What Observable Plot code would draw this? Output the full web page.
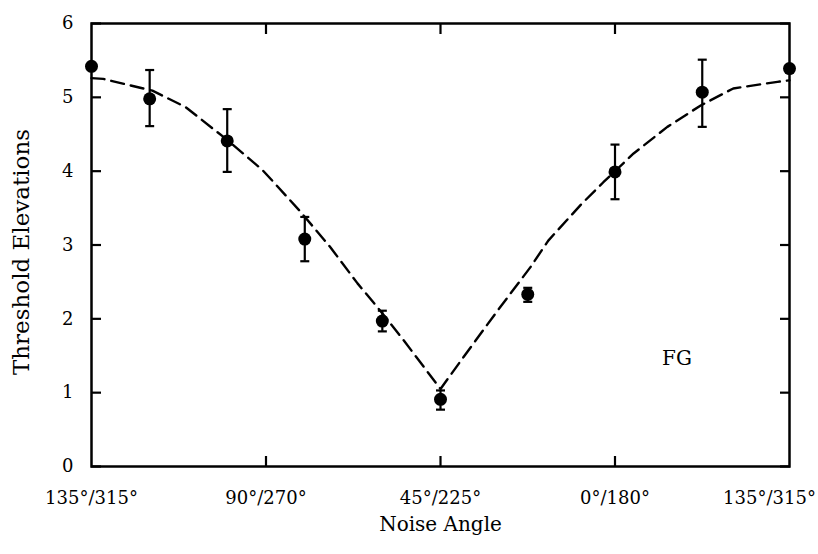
<!DOCTYPE html>
<html>
<head>
<meta charset="utf-8">
<script src="https://cdn.jsdelivr.net/npm/d3@7"></script>
<script src="https://cdn.jsdelivr.net/npm/@observablehq/plot@0.6"></script>
<style>
  html, body { margin: 0; padding: 0; background: white; }
</style>
</head>
<body>
<div id="chart"></div>
<script>
// Measured points (x = degrees from the 135°/315° position)
const angleOffsets = [0, 15, 35, 55, 75, 90, 112.5, 135, 157.5, 180];
const thresholds   = [5.42, 4.98, 4.41, 3.08, 1.97, 0.91, 2.33, 3.99, 5.07, 5.39];
const errLow       = [null, 4.61, 3.99, 2.78, 1.83, 0.77, 2.23, 3.62, 4.60, null];
const errHigh      = [null, 5.37, 4.84, 3.38, 2.11, 1.03, 2.42, 4.36, 5.51, null];

// Model curve (dashed)
const curveX = [0, 3, 15.7, 24.2, 34.6, 44, 47, 53.9, 61.6, 68.6, 73.7, 80.5, 90, 95.9, 104.7, 113.2, 117.8, 126.1, 132, 139.8, 148.5, 157.1, 165.5, 176.9, 180];
const curveY = [5.26, 5.25, 5.09, 4.87, 4.44, 4.02, 3.85, 3.45, 2.97, 2.48, 2.16, 1.71, 1.05, 1.48, 2.11, 2.70, 3.06, 3.54, 3.85, 4.24, 4.60, 4.89, 5.12, 5.21, 5.23];

// Axis ticks
const xTicks = [0, 45, 90, 135, 180];
const xTickLabels = ["135°/315°", "90°/270°", "45°/225°", "0°/180°", "135°/315°"];
const xInnerTicks = [45, 90, 135];
const yTicks = [0, 1, 2, 3, 4, 5, 6];
const xMin = 0, xMax = 180, yMin = 0, yMax = 6;

// Annotation
const noteText = ["FG"];
const noteX = [151];
const noteY = [1.46];

const points = angleOffsets.map((x, i) => ({x, y: thresholds[i], lo: errLow[i], hi: errHigh[i]}));
const bars = points.filter(d => d.lo != null);
const curve = curveX.map((x, i) => ({x, y: curveY[i]}));
const notes = noteText.map((t, i) => ({t, x: noteX[i], y: noteY[i]}));

const capSymbol = {
  draw(context) {
    context.moveTo(-4.5, 0);
    context.lineTo(4.5, 0);
  }
};
const T = 10; // tick length (px), shifted inward

const chart = Plot.plot({
  width: 818,
  height: 554,
  marginLeft: 91,
  marginRight: 29,
  marginTop: 23,
  marginBottom: 88,
  style: {fontFamily: "'DejaVu Serif', serif", fontSize: "18px", color: "black", background: "white"},
  x: {domain: [xMin, xMax]},
  y: {domain: [yMin, yMax]},
  marks: [
    Plot.line(curve, {x: "x", y: "y", stroke: "black", strokeWidth: 2.4, strokeDasharray: "13,7"}),
    Plot.ruleX(bars, {x: "x", y1: "lo", y2: "hi", stroke: "black", strokeWidth: 2.2}),
    Plot.dot(bars, {x: "x", y: "lo", symbol: capSymbol, stroke: "black", strokeWidth: 2.2, r: 4}),
    Plot.dot(bars, {x: "x", y: "hi", symbol: capSymbol, stroke: "black", strokeWidth: 2.2, r: 4}),
    Plot.dot(points, {x: "x", y: "y", r: 6.5, fill: "black"}),
    Plot.frame({stroke: "black", strokeWidth: 2.5}),
    // inward tick marks (outward ticks shifted inside by their length)
    Plot.axisY(yTicks, {anchor: "left", tickSize: T, dx: T, fill: "none", stroke: "black", strokeWidth: 2.2, label: null}),
    Plot.axisY(yTicks, {anchor: "right", tickSize: T, dx: -T, fill: "none", stroke: "black", strokeWidth: 2.2, label: null}),
    Plot.axisX(xInnerTicks, {anchor: "bottom", tickSize: T, dy: -T, fill: "none", stroke: "black", strokeWidth: 2.2, label: null}),
    Plot.axisX(xInnerTicks, {anchor: "top", tickSize: T, dy: T, fill: "none", stroke: "black", strokeWidth: 2.2, label: null}),
    // tick labels
    Plot.axisY(yTicks, {anchor: "left", tickSize: 0, tickPadding: 18, label: null, fontSize: 18, tickFormat: d => String(d)}),
    Plot.axisX(xTicks.slice(0, 4), {anchor: "bottom", tickSize: 0, tickPadding: 25, label: null, fontSize: 18,
      tickFormat: d => xTickLabels[xTicks.indexOf(d)]}),
    Plot.axisX(xTicks.slice(4), {anchor: "bottom", tickSize: 0, tickPadding: 25, label: null, fontSize: 18, dx: -20,
      tickFormat: d => xTickLabels[xTicks.indexOf(d)]}),
    // titles
    Plot.text(["Noise Angle"], {frameAnchor: "bottom", dy: 64, fontSize: 20}),
    Plot.text(["Threshold Elevations"], {frameAnchor: "left", dx: -70, dy: 7, rotate: -90, textAnchor: "middle", fontSize: 23}),
    Plot.text(notes, {x: "x", y: "y", text: "t", fontSize: 20})
  ]
});
document.getElementById("chart").appendChild(chart);
</script>
</body>
</html>
